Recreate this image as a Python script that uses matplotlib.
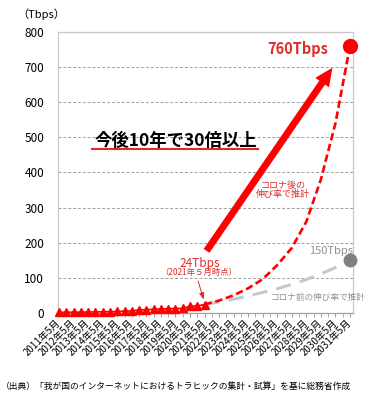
import numpy as np
import matplotlib.pyplot as plt

plt.rcParams['font.family'] = ['Noto Sans CJK JP', 'DejaVu Sans']

# measured traffic, May / November each year (Tbps)
hist_x = [2011 + 0.5 * i for i in range(21)]
hist_y = [1.6, 1.7, 1.9, 2.0, 2.3, 2.6, 3.0, 3.5, 3.9, 5.0, 5.5,
          8.2, 8.9, 10.3, 10.9, 11.7, 12.1, 12.6, 19.0, 19.8, 23.7]

# projections, May each year
proj_x = [2021, 2022, 2023, 2024, 2025, 2026, 2027, 2028, 2029, 2030, 2031]
post_covid = [24, 35, 50, 70, 96, 136, 185, 260, 380, 540, 760]
pre_covid = [24, 31, 39, 48, 58, 69, 81, 95, 111, 129, 150]

year_labels = [f'{y}年5月' for y in range(2011, 2032)]

RED = '#ff0000'
TXT_RED = '#e02b2b'
GRAY = '#c8c8c8'

fig = plt.figure(figsize=(3.75, 3.96), dpi=100)
ax = fig.add_axes([0.155, 0.210, 0.786, 0.709])

ax.set_xlim(2010.93, 2031.2)
ax.set_ylim(0, 800)
ax.set_yticks(range(0, 801, 100))
ax.set_xticks(range(2011, 2032))
ax.set_xticks(np.arange(2011, 2031.5, 0.5), minor=True)
ax.set_xticklabels(year_labels, rotation=45, ha='right', va='center',
                   rotation_mode='anchor', fontsize=7)
ax.tick_params(axis='x', which='both', length=3, color='#a0a0a0', pad=3)
ax.tick_params(axis='y', length=0, labelsize=8.5, pad=10)
ax.grid(axis='y', color='#a0a0a0', linestyle=(0, (3, 2)), linewidth=0.7)
for s in ax.spines.values():
    s.set_color('#c8c8c8')
    s.set_linewidth(0.9)
ax.spines['bottom'].set_color('#a0a0a0')

# projections
ax.plot(proj_x, pre_covid, color=GRAY, linewidth=2.2, linestyle=(0, (5, 3)))
ax.plot(proj_x, post_covid, color=RED, linewidth=1.9, linestyle=(0, (2.8, 1.4)))

# measured
ax.plot(hist_x, hist_y, color=RED, linewidth=1.2, marker='^', markersize=6,
        clip_on=False, zorder=5)

# end points
ax.plot(proj_x[-1], post_covid[-1], 'o', color=RED, markersize=10, clip_on=False, zorder=6)
ax.plot(proj_x[-1], pre_covid[-1], 'o', color='#808080', markersize=9, clip_on=False, zorder=6)

# big arrow
ax.annotate('', xy=(2029.9, 705), xytext=(2021.03, 170),
            arrowprops=dict(arrowstyle='simple,head_width=1.2,head_length=1.3,tail_width=0.5',
                            color=RED, lw=0))

# headline
ax.text(2019.0, 491, '今後10年で30倍以上', fontsize=12.5, fontweight='bold',
        ha='center', va='center')
ax.plot([0.115, 0.678], [0.584, 0.584], transform=ax.transAxes,
        color=TXT_RED, linewidth=1.5)

ax.text(2027.4, 753, '760Tbps', color=TXT_RED, fontsize=10.5, fontweight='bold',
        ha='center', va='center')
ax.text(2026.4, 350, 'コロナ後の\n伸び率で推計', color=TXT_RED, fontsize=6.5,
        ha='center', va='center', linespacing=1.1)
ax.text(2029.7, 176, '150Tbps', color='#909090', fontsize=8,
        ha='center', va='center')
ax.text(2028.8, 43, 'コロナ前の伸び率で推計', color='#909090', fontsize=6.2,
        ha='center', va='center', clip_on=False)
ax.text(2020.7, 142, '24Tbps', color=TXT_RED, fontsize=8.5,
        ha='center', va='center')
ax.text(2020.6, 114, '（2021年５月時点）', color=TXT_RED, fontsize=6,
        ha='center', va='center')
ax.annotate('', xy=(2021.0, 30), xytext=(2020.5, 98),
            arrowprops=dict(arrowstyle='-|>,head_width=0.15,head_length=0.4',
                            color=TXT_RED, lw=0.7))

fig.text(0.045, 0.963, '（Tbps）', fontsize=8, ha='left', va='center')
fig.text(0.003, 0.025, '（出典）「我が国のインターネットにおけるトラヒックの集計・試算」を基に総務省作成',
         fontsize=6.3, ha='left', va='center')

fig.savefig('out.png', dpi=100)
